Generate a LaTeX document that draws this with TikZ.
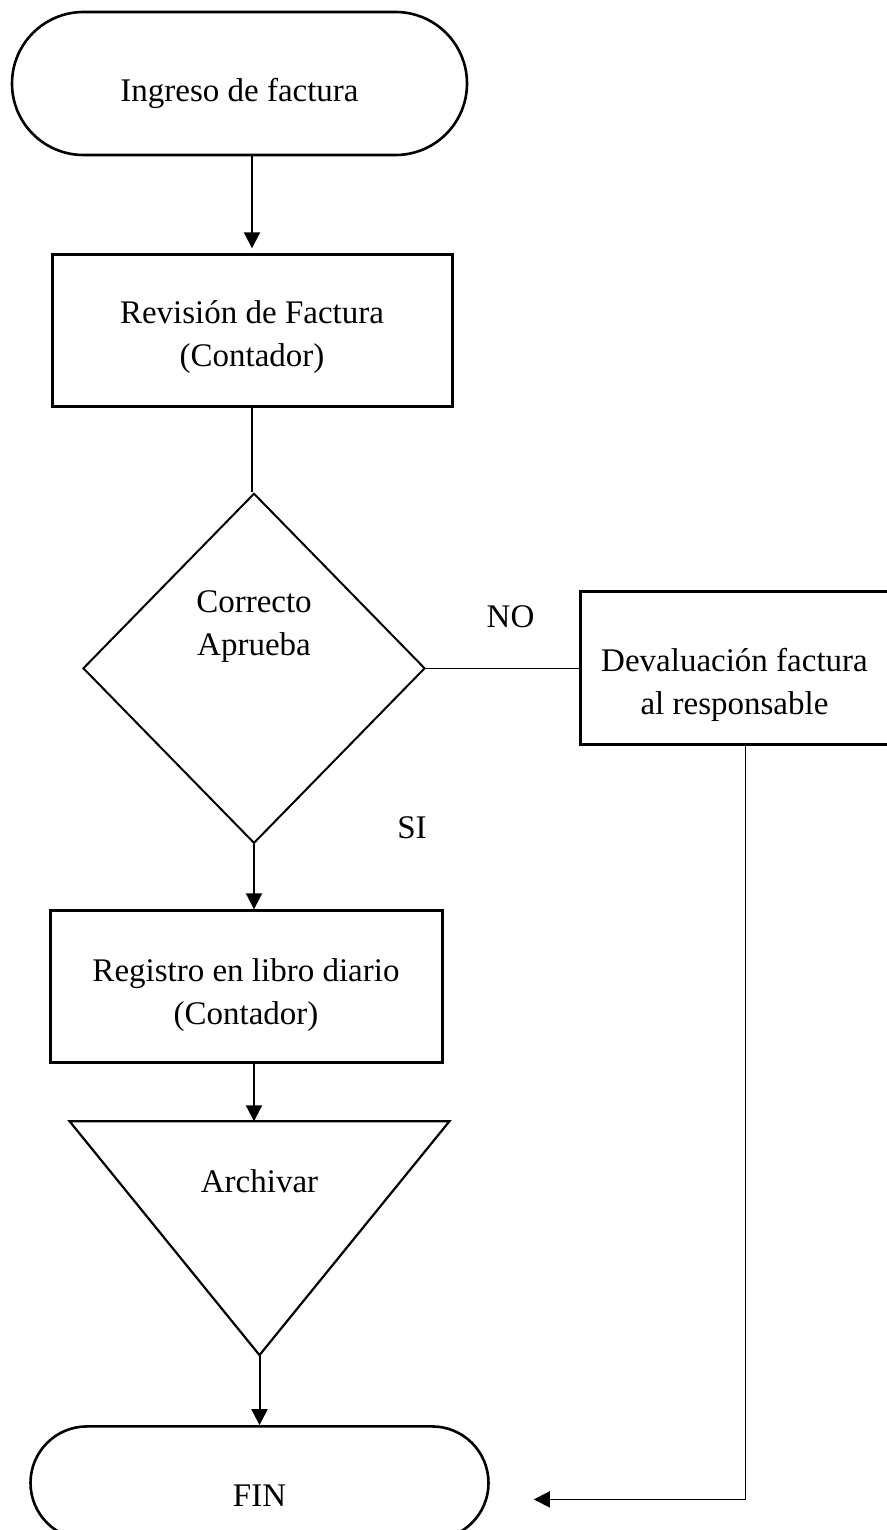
\documentclass[tikz,border=0pt]{standalone}
\usepackage{fontspec}
\setmainfont{Liberation Serif}
\usetikzlibrary{shapes.geometric, arrows.meta, positioning}
\tikzset{
  term/.style={rectangle, draw=black, line width=1.3pt, align=center,
               font=\fontsize{16.5}{21.5}\selectfont},
  proc/.style={rectangle, draw=black, line width=1.5pt, align=center,
               minimum height=76pt, font=\fontsize{16.5}{21.5}\selectfont},
  decis/.style={diamond, draw=black, line width=1pt, inner sep=0pt,
                minimum width=171pt, minimum height=175pt},
  archbox/.style={rectangle, draw=none, inner sep=0pt,
                  minimum width=189.5pt, minimum height=116.5pt},
  txt/.style={align=center, inner sep=0pt, font=\fontsize{16.5}{21.5}\selectfont},
  arrow/.style={-{Triangle[length=8pt,width=8pt]}, line width=1pt, black},
  line/.style={line width=0.65pt, black},
}
\begin{document}
\begin{tikzpicture}
  \useasboundingbox (0,0) rectangle (443.5pt,-765pt);
  \node[term, rounded corners=35.75pt, minimum width=227.5pt, minimum height=71.5pt,
        text height=22pt] (inicio) at (119.75pt,-41.75pt) {Ingreso de factura};
  \node[proc, minimum width=200pt, text height=39.5pt, below=48.5pt of inicio, xshift=6.25pt]
        (rev) {Revisión de Factura\\(Contador)};
  \node[decis, below=42pt of rev, xshift=1pt] (dec) {};
  \node[txt] (dectxt) at ([yshift=21pt]dec.center) {Correcto\\Aprueba};
  \node[proc, minimum width=154pt, minimum height=76.5pt, text height=49.5pt,
        right=76.5pt of dec] (devol) {Devaluación factura\\al responsable};
  \node[proc, minimum width=196pt, text height=41.5pt, below=32.5pt of dec, xshift=-4pt]
        (reg) {Registro en libro diario\\(Contador)};
  \node[archbox, below=28.5pt of reg, xshift=6.75pt] (arch) {};
  \draw[line width=1.1pt] (arch.north west) -- (arch.north east) -- (arch.south) -- cycle;
  \node[txt] (archtxt) at ([yshift=-30pt]arch.north) {Archivar};
  \node[term, rounded corners=28.25pt, minimum width=229pt, minimum height=56.5pt,
        below=35pt of arch] (fin) {};
  \node[txt] (fintxt) at ([yshift=-6.25pt]fin.center) {FIN};
  \coordinate (finin) at ([xshift=22pt, yshift=-8.25pt]fin.east);
  % conectores
  \draw[arrow, shorten >=2.5pt] (inicio.south -| rev.north) -- (rev.north);
  \draw[line] (rev.south) -- (rev.south |- dec.north);
  \draw[line] (dec.east) -- (dec.east -| devol.west)
        node[txt, midway, above=20pt, xshift=4pt] (no) {NO};
  \draw[arrow] (dec.south) -- (dec.south |- reg.north);
  \node[txt] (si) at ([xshift=79pt, yshift=8.5pt]dec.south) {SI};
  \draw[arrow] (reg.south -| dec.south) -- (arch.north -| dec.south);
  \draw[arrow] (arch.south) -- (arch.south |- fin.north);
  \draw[arrow, line width=0.8pt] ([xshift=5.5pt]devol.south) |- (finin);
\end{tikzpicture}
\end{document}
